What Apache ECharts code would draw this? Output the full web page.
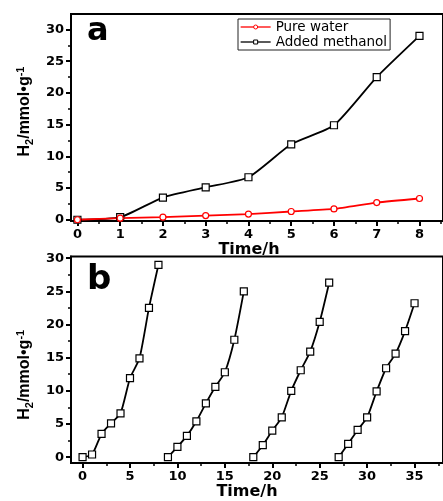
<!DOCTYPE html>
<html>
<head>
<meta charset="utf-8">
<script src="https://cdn.jsdelivr.net/npm/echarts@6/dist/echarts.min.js"></script>
<style>
  html, body { margin: 0; padding: 0; background: #fff; }
  #chart { width: 443px; height: 501px; }
</style>
</head>
<body>
<div id="chart"></div>
<script>
// panel a - H2 over time
var timeA = [0, 1, 2, 3, 4, 5, 6, 7, 8];
var pureWater = [0, 0.25, 0.4, 0.65, 0.9, 1.3, 1.7, 2.7, 3.35];
var addedMethanol = [0, 0.4, 3.5, 5.1, 6.7, 11.9, 14.9, 22.5, 29.0];

// panel b - four cycles
var timeB1 = [0, 1, 2, 3, 4, 5, 6, 7, 8];
var timeB2 = [9, 10, 11, 12, 13, 14, 15, 16, 17];
var timeB3 = [18, 19, 20, 21, 22, 23, 24, 25, 26];
var timeB4 = [27, 28, 29, 30, 31, 32, 33, 34, 35];
var cycle1 = [0, 0.4, 3.5, 5.1, 6.6, 11.9, 14.9, 22.5, 29.0];
var cycle2 = [0, 1.55, 3.2, 5.4, 8.1, 10.6, 12.8, 17.7, 25.0];
var cycle3 = [0, 1.8, 4.0, 6.0, 10.0, 13.1, 15.9, 20.4, 26.3];
var cycle4 = [0, 2.0, 4.1, 6.0, 9.9, 13.4, 15.6, 19.0, 23.2];

// ticks
var ticksAX = [0, 1, 2, 3, 4, 5, 6, 7, 8];
var minorAX = [0.5, 1.5, 2.5, 3.5, 4.5, 5.5, 6.5, 7.5, 8.5];
var ticksAY = [0, 5, 10, 15, 20, 25, 30];
var minorAY = [2.5, 7.5, 12.5, 17.5, 22.5, 27.5];
var ticksBX = [0, 5, 10, 15, 20, 25, 30, 35];
var minorBX = [2.5, 7.5, 12.5, 17.5, 22.5, 27.5, 32.5, 37.5];
var ticksBY = [0, 5, 10, 15, 20, 25, 30];
var minorBY = [2.5, 7.5, 12.5, 17.5, 22.5, 27.5];

function pairs (xs, ys) {
  return xs.map(function (x, i) { return [x, ys[i]] })
}

var black = '#000'
var timeName = { color: black, fontFamily: 'DejaVu Sans', fontWeight: 'bold', fontSize: 16, lineHeight: 16 }
var yNameRich = {
  h: { color: black, fontFamily: 'Liberation Sans', fontWeight: 'bold', fontSize: 16, lineHeight: 20 },
  sub: { color: black, fontFamily: 'Liberation Sans', fontWeight: 'bold', fontSize: 11, verticalAlign: 'bottom' },
  sup: { color: black, fontFamily: 'Liberation Sans', fontWeight: 'bold', fontSize: 11, verticalAlign: 'top' }
}
var yName = '{h|H}{sub|2}{h|/mmol•g}{sup|-1}'

function majorAxis (grid, pos, min, max, ticks, extra) {
  var ax = {
    type: 'value', gridIndex: grid, position: pos, min: min, max: max,
    axisLine: { onZero: false, lineStyle: { color: black, width: 2 } },
    axisTick: { customValues: ticks, length: 5, lineStyle: { color: black, width: 2 } },
    axisLabel: { customValues: ticks, margin: 7, color: black, fontFamily: 'DejaVu Sans', fontWeight: 'bold', fontSize: 13 },
    splitLine: { show: false }
  }
  return Object.assign(ax, extra)
}
function minorAxis (grid, pos, min, max, ticks) {
  return {
    type: 'value', gridIndex: grid, position: pos, min: min, max: max,
    axisLine: { show: false, onZero: false },
    axisTick: { customValues: ticks, length: 3, lineStyle: { color: black, width: 1.5 } },
    axisLabel: { show: false },
    splitLine: { show: false }
  }
}

function lineSeries (name, xi, yi, data, color, symbol, size) {
  return {
    name: name, type: 'line', xAxisIndex: xi, yAxisIndex: yi, data: data,
    smooth: 0.2, symbol: symbol, symbolSize: size,
    lineStyle: { color: color, width: 1.8 },
    itemStyle: { color: '#fff', borderColor: color, borderWidth: 1.2 },
    z: 3
  }
}

var myChart = echarts.init(document.getElementById('chart'))
var option = {
  animation: false,
  backgroundColor: '#fff',
  grid: [
    { left: 71, top: 14, width: 375, height: 207, show: true, borderColor: black, borderWidth: 2 },
    { left: 71, top: 256.5, width: 375, height: 212, show: true, borderColor: black, borderWidth: 2 }
  ],
  xAxis: [
    majorAxis(0, 'bottom', -0.15, 8.55, ticksAX, {
      name: 'Time/h', nameLocation: 'middle', nameGap: 17,
      nameTextStyle: Object.assign({ padding: [0, 16, 0, 0] }, timeName)
    }),
    minorAxis(0, 'bottom', -0.15, 8.55, minorAX),
    majorAxis(1, 'bottom', -1.22, 38, ticksBX, {
      name: 'Time/h', nameLocation: 'middle', nameGap: 16.5,
      nameTextStyle: Object.assign({ padding: [0, 20, 0, 0] }, timeName)
    }),
    minorAxis(1, 'bottom', -1.22, 38, minorBX)
  ],
  yAxis: [
    majorAxis(0, 'left', -0.2, 32.45, ticksAY, {
      name: yName, nameLocation: 'middle', nameGap: 36,
      nameTextStyle: { rich: yNameRich, padding: [0, 0, 0, 12] }
    }),
    minorAxis(0, 'left', -0.2, 32.45, minorAY),
    majorAxis(1, 'left', -0.9, 30.25, ticksBY, {
      name: yName, nameLocation: 'middle', nameGap: 36,
      nameTextStyle: { rich: yNameRich, padding: [0, 30, 0, 0] }
    }),
    minorAxis(1, 'left', -0.9, 30.25, minorBY)
  ],
  legend: {
    data: ['Pure water', 'Added methanol'],
    orient: 'vertical', left: 238, top: 19,
    padding: [1, 3, 1, 2], itemGap: 1, itemWidth: 30, itemHeight: 5,
    borderColor: '#222', borderWidth: 1,
    lineStyle: { width: 1.3 },
    itemStyle: { borderWidth: 1 },
    textStyle: { color: black, fontFamily: 'DejaVu Sans', fontSize: 13.5, lineHeight: 14 }
  },
  graphic: [
    { type: 'text', left: 87, top: 16, style: { text: 'a', fill: black, font: 'bold 32px "DejaVu Sans"' } },
    { type: 'text', left: 87, top: 263, style: { text: 'b', fill: black, font: 'bold 34px "DejaVu Sans"' } }
  ],
  series: [
    lineSeries('Added methanol', 0, 0, pairs(timeA, addedMethanol), black, 'rect', 7),
    lineSeries('Pure water', 0, 0, pairs(timeA, pureWater), '#ff0000', 'circle', 6),
    lineSeries('cycle 1', 2, 2, pairs(timeB1, cycle1), black, 'rect', 7),
    lineSeries('cycle 2', 2, 2, pairs(timeB2, cycle2), black, 'rect', 7),
    lineSeries('cycle 3', 2, 2, pairs(timeB3, cycle3), black, 'rect', 7),
    lineSeries('cycle 4', 2, 2, pairs(timeB4, cycle4), black, 'rect', 7)
  ]
}
myChart.setOption(option)
</script>
</body>
</html>
